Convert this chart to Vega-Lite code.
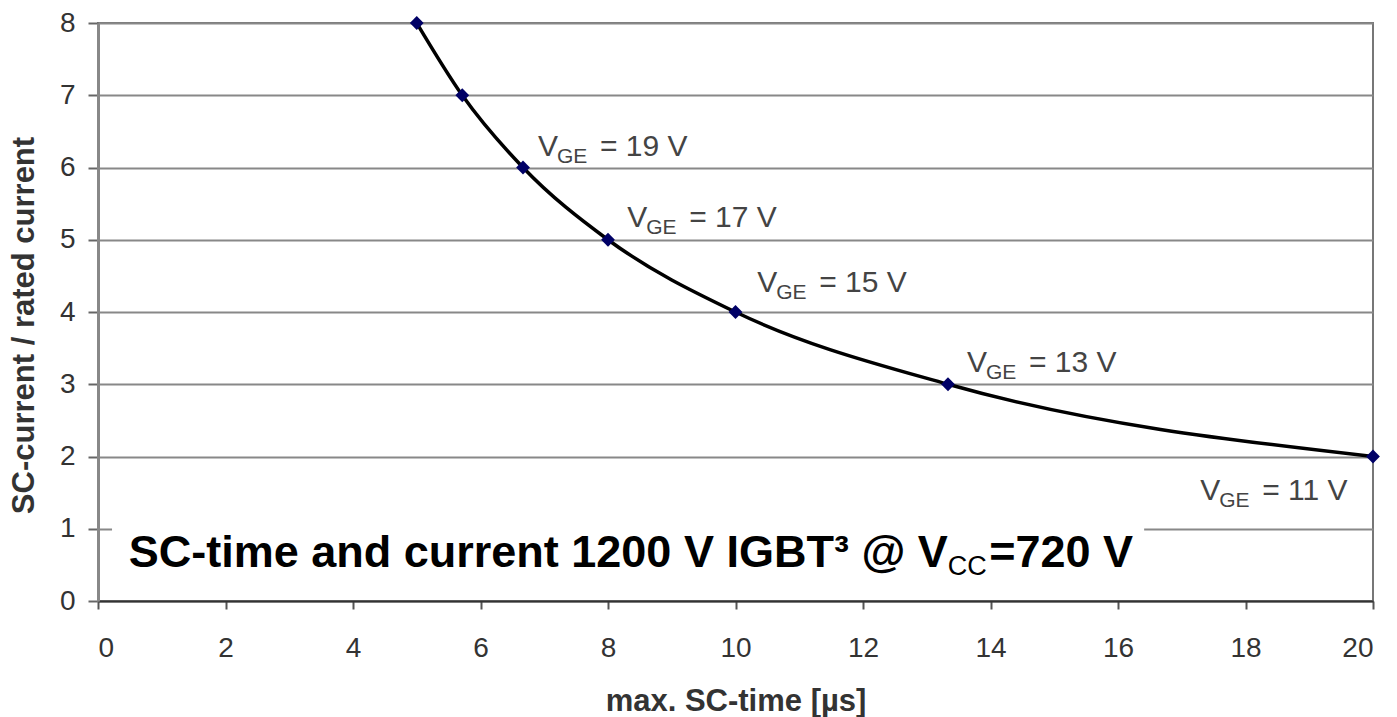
{
  "$schema": "https://vega.github.io/schema/vega-lite/v6.json",
  "width": 1275,
  "height": 578,
  "autosize": {"type": "none"},
  "padding": {"left": 98, "top": 23, "right": 24, "bottom": 116},
  "background": "white",
  "config": {
    "font": "Liberation Sans",
    "view": {"stroke": "#777777", "strokeWidth": 2},
    "axis": {"labelFont": "Liberation Sans", "titleFont": "Liberation Sans"}
  },
  "datasets": {
    "points": [
      {"t": 5, "r": 8},
      {"t": 5.714, "r": 7},
      {"t": 6.667, "r": 6},
      {"t": 8, "r": 5},
      {"t": 10, "r": 4},
      {"t": 13.333, "r": 3},
      {"t": 20, "r": 2}
    ],
    "labels": [
      {"lx": 6.90, "ly": 6.16, "v": "= 19 V"},
      {"lx": 8.30, "ly": 5.18, "v": "= 17 V"},
      {"lx": 10.34, "ly": 4.28, "v": "= 15 V"},
      {"lx": 13.63, "ly": 3.17, "v": "= 13 V"},
      {"lx": 17.29, "ly": 1.40, "v": "= 11 V"}
    ],
    "box": [{"x1": 0.22, "x2": 16.41, "y1": 0.1, "y2": 1.3}],
    "title": [{"x": 13.33, "y": 0.47, "xb": 13.98, "yb": 0.36}]
  },
  "layer": [
    {
      "data": {"name": "box"},
      "mark": {"type": "rect", "fill": "white", "stroke": null},
      "encoding": {
        "x": {"field": "x1", "type": "quantitative", "scale": {"domain": [0, 20], "nice": false, "zero": false},
          "axis": {
            "title": "max. SC-time [µs]",
            "values": [0, 2, 4, 6, 8, 10, 12, 14, 16, 18, 20],
            "format": "d",
            "grid": false,
            "domainColor": "#333333", "domainWidth": 2,
            "tickColor": "#555555", "tickWidth": 2, "tickSize": 8,
            "labelFontSize": 28, "labelColor": "#333333", "labelPadding": 25,
            "titleFontSize": 31, "titleFontWeight": "bold", "titleColor": "#333333", "titlePadding": 24
          }},
        "x2": {"field": "x2"},
        "y": {"field": "y1", "type": "quantitative", "scale": {"domain": [0, 8], "nice": false, "zero": false},
          "axis": {
            "title": "SC-current / rated current",
            "values": [0, 1, 2, 3, 4, 5, 6, 7, 8],
            "format": "d",
            "grid": true, "gridColor": "#888888", "gridWidth": 2,
            "domainColor": "#888888", "domainWidth": 3,
            "tickColor": "#666666", "tickWidth": 2, "tickSize": 10,
            "labelFontSize": 28, "labelColor": "#333333", "labelPadding": 13,
            "titleFontSize": 31, "titleFontWeight": "bold", "titleColor": "#333333",
            "titleX": -74, "titleY": 302, "titleBaseline": "middle", "titleAlign": "center", "titleAngle": -90
          }},
        "y2": {"field": "y2"}
      }
    },
    {
      "data": {"name": "points"},
      "mark": {"type": "line", "color": "black", "strokeWidth": 3.5, "interpolate": "monotone"},
      "encoding": {
        "x": {"field": "t", "type": "quantitative"},
        "y": {"field": "r", "type": "quantitative"}
      }
    },
    {
      "data": {"name": "points"},
      "mark": {"type": "point", "shape": "diamond", "filled": true, "color": "#000066", "size": 190, "opacity": 1},
      "encoding": {
        "x": {"field": "t", "type": "quantitative"},
        "y": {"field": "r", "type": "quantitative"}
      }
    },
    {
      "data": {"name": "labels"},
      "mark": {"type": "text", "align": "left", "baseline": "alphabetic", "fontSize": 30, "color": "#444444"},
      "encoding": {
        "x": {"field": "lx", "type": "quantitative"},
        "y": {"field": "ly", "type": "quantitative"},
        "text": {"value": "V"}
      }
    },
    {
      "data": {"name": "labels"},
      "mark": {"type": "text", "align": "left", "baseline": "alphabetic", "fontSize": 21, "color": "#444444", "dx": 19, "dy": 7},
      "encoding": {
        "x": {"field": "lx", "type": "quantitative"},
        "y": {"field": "ly", "type": "quantitative"},
        "text": {"value": "GE"}
      }
    },
    {
      "data": {"name": "labels"},
      "mark": {"type": "text", "align": "left", "baseline": "alphabetic", "fontSize": 30, "color": "#444444", "dx": 62},
      "encoding": {
        "x": {"field": "lx", "type": "quantitative"},
        "y": {"field": "ly", "type": "quantitative"},
        "text": {"field": "v"}
      }
    },
    {
      "data": {"name": "title"},
      "mark": {"type": "text", "align": "right", "baseline": "alphabetic", "fontSize": 45, "fontWeight": "bold", "color": "black"},
      "encoding": {
        "x": {"field": "x", "type": "quantitative"},
        "y": {"field": "y", "type": "quantitative"},
        "text": {"value": "SC-time and current 1200 V IGBT³ @ V"}
      }
    },
    {
      "data": {"name": "title"},
      "mark": {"type": "text", "align": "left", "baseline": "alphabetic", "fontSize": 27, "fontWeight": "normal", "color": "black"},
      "encoding": {
        "x": {"field": "x", "type": "quantitative"},
        "y": {"field": "yb", "type": "quantitative"},
        "text": {"value": "CC"}
      }
    },
    {
      "data": {"name": "title"},
      "mark": {"type": "text", "align": "left", "baseline": "alphabetic", "fontSize": 45, "fontWeight": "bold", "color": "black"},
      "encoding": {
        "x": {"field": "xb", "type": "quantitative"},
        "y": {"field": "y", "type": "quantitative"},
        "text": {"value": "=720 V"}
      }
    }
  ]
}
